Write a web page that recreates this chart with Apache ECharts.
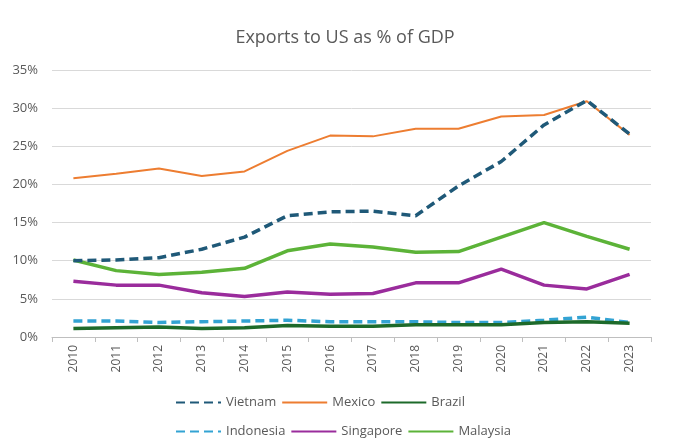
<!DOCTYPE html>
<html><head><meta charset="utf-8">
<script src="https://cdn.jsdelivr.net/npm/echarts@6/dist/echarts.min.js"></script>
<style>html,body{margin:0;padding:0;background:#fff}#c{width:690px;height:441px}</style>
</head><body><div id="c"></div>
<script>
const years = ['2010','2011','2012','2013','2014','2015','2016','2017','2018','2019','2020','2021','2022','2023'];
const vietnam   = [10.0,10.1,10.4,11.5,13.1,15.9,16.4,16.5,15.9,19.8,23.0,27.8,31.0,26.6];
const mexico    = [20.8,21.4,22.1,21.1,21.7,24.4,26.4,26.3,27.3,27.3,28.9,29.1,30.9,26.5];
const brazil    = [1.1,1.2,1.3,1.1,1.2,1.5,1.4,1.4,1.6,1.6,1.6,1.9,2.0,1.8];
const indonesia = [2.1,2.1,1.9,2.0,2.1,2.2,2.0,2.0,2.0,1.9,1.9,2.2,2.6,1.9];
const singapore = [7.3,6.8,6.8,5.8,5.3,5.9,5.6,5.7,7.1,7.1,8.9,6.8,6.3,8.2];
const malaysia  = [10.1,8.7,8.2,8.5,9.0,11.3,12.2,11.8,11.1,11.2,13.1,15.0,13.2,11.5];

const font = 'Open Sans';
const grey = '#595959';
function s(name, data, color, width, dashed) {
  return {name, type:'line', data, symbol:'none', smooth:false,
    lineStyle:{color, width, type: dashed ? [9,5] : 'solid', cap:'butt'},
    itemStyle:{color}};
}
const legendBase = {
  left: 170, itemWidth: 45, itemHeight: 12, itemGap: 5,
  itemStyle:{opacity:0},
  textStyle:{fontFamily:font, fontSize:13, color:grey, width:60}
};
const chart = echarts.init(document.getElementById('c'));
chart.setOption({
  animation:false,
  title:{text:'Exports to US as % of GDP', left:'center', top:24,
    textStyle:{fontFamily:font, fontSize:18, fontWeight:'normal', color:grey}},
  grid:{left:52, right:39, top:70, bottom:104},
  xAxis:{type:'category', data:years, boundaryGap:true,
    axisLine:{lineStyle:{color:'#bfbfbf'}},
    axisTick:{show:true, length:5, lineStyle:{color:'#bfbfbf'}},
    axisLabel:{rotate:90, fontFamily:font, fontSize:12, color:grey, margin:8}},
  yAxis:{type:'value', min:0, max:35, interval:5,
    axisLine:{show:false}, axisTick:{show:false},
    axisLabel:{formatter: v => v + '%', fontFamily:font, fontSize:13, color:grey, margin:14},
    splitLine:{lineStyle:{color:'#d9d9d9', width:1}}},
  legend:[
    Object.assign({}, legendBase, {top:391, data:['Vietnam','Mexico','Brazil']}),
    Object.assign({}, legendBase, {top:420, data:['Indonesia','Singapore','Malaysia']})
  ],
  series:[
    s('Indonesia', indonesia, '#33a3d3', 3.5, true),
    s('Brazil', brazil, '#1d6a2a', 3.5, false),
    s('Singapore', singapore, '#9a2c9c', 3.5, false),
    s('Malaysia', malaysia, '#5cb338', 3.5, false),
    s('Mexico', mexico, '#ed7d31', 2, false),
    s('Vietnam', vietnam, '#1f5978', 3.5, true)
  ]
});
</script></body></html>
